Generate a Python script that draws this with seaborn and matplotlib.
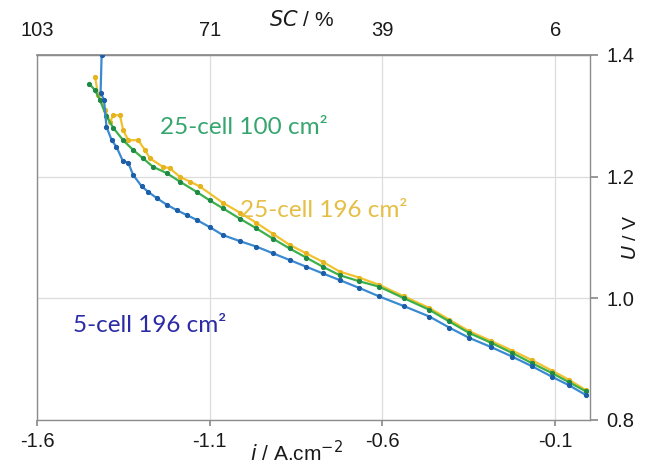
import numpy as np
import pandas as pd
import matplotlib
matplotlib.use("Agg")
import matplotlib.pyplot as plt
import seaborn as sns

# ---- data ----
blue_i = [-1.413, -1.416, -1.406, -1.399, -1.384, -1.370, -1.351, -1.336, -1.322, -1.297,
          -1.278, -1.254, -1.225, -1.196, -1.167, -1.138, -1.100, -1.062, -1.013, -0.965,
          -0.917, -0.869, -0.821, -0.773, -0.724, -0.667, -0.609, -0.537, -0.464, -0.407,
          -0.349, -0.286, -0.224, -0.166, -0.109, -0.060, -0.011]
blue_U = [1.400, 1.338, 1.326, 1.282, 1.260, 1.249, 1.225, 1.223, 1.203, 1.184,
          1.175, 1.165, 1.154, 1.145, 1.137, 1.129, 1.117, 1.104, 1.094, 1.085,
          1.074, 1.063, 1.052, 1.041, 1.030, 1.017, 1.003, 0.987, 0.970, 0.952,
          0.935, 0.920, 0.904, 0.888, 0.871, 0.857, 0.841]

green_i = [-1.449, -1.432, -1.418, -1.399, -1.379, -1.351, -1.322, -1.293, -1.264, -1.225,
           -1.187, -1.138, -1.100, -1.062, -1.013, -0.965, -0.917, -0.869, -0.821, -0.773,
           -0.724, -0.667, -0.609, -0.537, -0.464, -0.407, -0.349, -0.286, -0.224, -0.166,
           -0.109, -0.060, -0.011]
green_U = [1.353, 1.342, 1.326, 1.299, 1.280, 1.260, 1.244, 1.230, 1.216, 1.206,
           1.192, 1.175, 1.161, 1.148, 1.131, 1.115, 1.098, 1.082, 1.067, 1.052,
           1.038, 1.028, 1.019, 1.000, 0.981, 0.962, 0.943, 0.927, 0.910, 0.893,
           0.877, 0.862, 0.847]

yellow_i = [-1.432, -1.423, -1.403, -1.389, -1.379, -1.360, -1.351, -1.336, -1.307, -1.288,
            -1.273, -1.235, -1.216, -1.187, -1.158, -1.129, -1.062, -1.013, -0.965, -0.917,
            -0.869, -0.821, -0.773, -0.724, -0.667, -0.609, -0.537, -0.464, -0.407, -0.349,
            -0.286, -0.224, -0.166, -0.109, -0.060, -0.011]
yellow_U = [1.364, 1.334, 1.310, 1.290, 1.301, 1.301, 1.277, 1.260, 1.260, 1.244,
            1.230, 1.216, 1.214, 1.200, 1.192, 1.184, 1.157, 1.141, 1.124, 1.106,
            1.088, 1.074, 1.060, 1.044, 1.034, 1.022, 1.003, 0.984, 0.965, 0.946,
            0.930, 0.914, 0.898, 0.881, 0.866, 0.849]

series_names = ["5-cell 196 cm²", "25-cell 100 cm²", "25-cell 196 cm²"]
x_ticks = [-1.6, -1.1, -0.6, -0.1]
sc_labels = ["103", "71", "39", "6"]
y_ticks = [0.8, 1.0, 1.2, 1.4]

# ---- figure ----
sns.set_theme(style="white")
plt.rcParams['font.family'] = ['Liberation Sans', 'DejaVu Sans']

fig = plt.figure(figsize=(6.66, 4.68), dpi=100)
ax = fig.add_axes([0.0556, 0.1026, 0.8299, 0.7799])

line_colors = ["#3a8ad2", "#3cb04a", "#f2c22e"]
marker_colors = ["#1d5ea8", "#1f8a45", "#e6b41e"]
text_colors = ["#2b2ba6", "#36a56e", "#e5bf45"]

data = [(blue_i, blue_U), (green_i, green_U), (yellow_i, yellow_U)]
order = [2, 1, 0]
for k in order:
    xs, ys = data[k]
    df = pd.DataFrame({"i": xs, "U": ys})
    sns.lineplot(data=df, x="i", y="U", ax=ax, sort=False, estimator=None,
                 color=line_colors[k], linewidth=1.6, marker="o", markersize=3.0,
                 markerfacecolor=marker_colors[k], markeredgecolor=marker_colors[k],
                 zorder=3 + (2 - k))

ax.set_xlim(-1.6, 0.0)
ax.set_ylim(0.8, 1.4)
ax.set_xticks(x_ticks)
ax.set_xticklabels([f"{v:.1f}" for v in x_ticks])
ax.set_yticks(y_ticks)
ax.set_yticklabels([f"{v:.1f}" for v in y_ticks])
ax.yaxis.tick_right()
ax.yaxis.set_label_position("right")
ax.grid(True, color="#dcdcdc", linewidth=0.9)
for s in ax.spines.values():
    s.set_color("#8c8c8c")
    s.set_linewidth(1.0)
ax.tick_params(axis="x", which="both", bottom=True, direction="out", length=4,
               color="#8c8c8c", labelsize=14.5, labelcolor="#1a1a1a", pad=5)
ax.tick_params(axis="y", which="both", right=True, left=False, direction="out", length=6,
               color="#8c8c8c", labelsize=14.5, labelcolor="#1a1a1a", pad=6)
ax.set_xlabel("")
ax.set_ylabel("")

sec = ax.secondary_xaxis("top")
sec.set_xticks(x_ticks)
sec.set_xticklabels(sc_labels)
sec.tick_params(axis="x", length=0, labelsize=14.5, labelcolor="#1a1a1a", pad=11)
sec.spines["top"].set_color("#8c8c8c")

fig.text(0.453, 0.957, r"$\mathit{SC}$ / %", ha="center", va="center", fontsize=15,
         color="#1a1a1a")
fig.text(0.446, 0.033, r"$\mathit{i}$ / A.cm$^{-2}$", ha="center", va="center",
         fontsize=15, color="#1a1a1a")
fig.text(0.948, 0.493, r"$\mathit{U}$ / V", ha="center", va="center", rotation=90,
         fontsize=14, color="#1a1a1a")

lab_font = ["Lato", "DejaVu Sans"]
ax.text(-1.244, 1.28, series_names[1], color=text_colors[1], fontsize=17.5,
        family=lab_font, ha="left", va="center", zorder=10)
ax.text(-1.013, 1.145, series_names[2], color=text_colors[2], fontsize=17.5,
        family=lab_font, ha="left", va="center", zorder=10)
ax.text(-1.496, 0.956, series_names[0], color=text_colors[0], fontsize=17.5,
        family=lab_font, ha="left", va="center", zorder=10)

fig.savefig("out.png", dpi=100)
